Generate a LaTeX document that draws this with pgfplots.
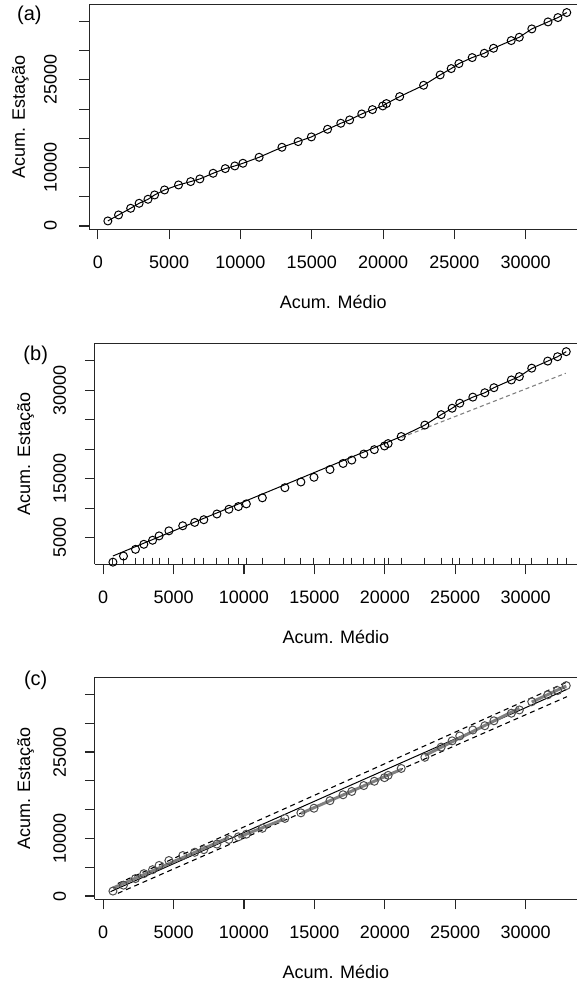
\documentclass[border=0pt]{standalone}
\usepackage{pgfplots}
\pgfplotsset{compat=1.18}
\usepackage{pgfplotstable}
\usepackage{fontspec}
\setmainfont{Liberation Sans}

\pgfplotstableread{
x y
697 856
1446 1884
2297 3025
2891 3881
3511 4566
3975 5308
4672 6164
5653 7021
6505 7591
7150 8048
8080 9018
8932 9817
9603 10274
10171 10731
11306 11758
12907 13470
14043 14441
14972 15240
16108 16553
17037 17580
17656 18151
18508 19178
19257 19920
19979 20548
20238 20947
21167 22146
22845 24087
24006 25856
24781 26941
25323 27797
26252 28824
27104 29566
27750 30422
28989 31735
29556 32306
30434 33733
31570 34932
32267 35674
32886 36530
}\pts

\pgfplotstableread{
x y
697 1900
21167 22146
22845 24087
24006 25856
24781 26941
25323 27797
26252 28824
27104 29566
27750 30422
28989 31735
29556 32306
30434 33733
31570 34932
32267 35674
32886 36530
}\blinha

\pgfplotstableread{
x y
697 1051
1446 1051
2297 1051
2891 1051
3511 1051
3975 1051
4672 1051
5653 1051
6505 1051
7150 1051
8080 1051
8932 1051
9603 1051
10171 1051
11306 1051
12907 1051
14043 1051
14972 1051
16108 1051
17037 1051
17656 1051
18508 1051
19257 1051
19979 1051
20238 1051
21167 1051
22845 1051
24006 1051
24781 1051
25323 1051
26252 1051
27104 1051
27750 1051
28989 1051
29556 1051
30434 1051
31570 1051
32267 1051
32886 1051
}\rug

\pgfplotsset{
  rstyle/.style={
    scale only axis,
    anchor=south west,
    axis lines*=left,
    axis line style={line width=1.1pt, black!85},
    every tick/.style={line width=1.1pt, black!85},
    tick align=outside,
    major tick length=10pt,
    scaled ticks=false,
    xtick={0,5000,10000,15000,20000,25000,30000},
    xticklabels={0,5000,10000,15000,20000,25000,30000},
    xticklabel style={anchor=center, inner sep=0pt, yshift=-23pt},
    tick label style={font=\fontsize{18}{21}\selectfont},
    xlabel={Acum. Médio},
    ylabel={Acum. Estação},
  },
  pts/.style={only marks, mark=o, mark size=4pt, mark options={line width=1pt}},
}

\begin{document}
\begin{tikzpicture}
\path (0,0) rectangle (577pt,981pt);

% ---------- (a)
\begin{axis}[rstyle,
  at={(89.5pt,751.7pt)},
  width=487.5pt, height=225pt,
  xmin=-591, xmax=33605,
  ymin=-571, ymax=37957,
  ytick={0,5000,10000,15000,20000,25000,30000,35000},
  yticklabels={0,,10000,,,25000,,},
  yticklabel style={xshift=-29pt, rotate=90, anchor=center, inner sep=0pt},
  every axis y label/.style={at={(axis description cs:-0.1421,0.5)}, rotate=90, anchor=center, inner sep=0pt, font=\fontsize{18}{21}\selectfont},
  every axis x label/.style={at={(axis description cs:0.5,-0.3218)}, anchor=center, inner sep=0pt, font=\fontsize{18}{21}\selectfont},
]
\draw[line width=1.1pt, black!85] (rel axis cs:0,1) -- (rel axis cs:1,1);
\addplot[black, line width=1pt] table[x=x,y=y] {\pts};
\addplot[pts, black] table[x=x,y=y] {\pts};
\end{axis}
\node[font=\fontsize{20}{23}\selectfont] at (29.4pt,966pt) {(a)};

% ---------- (b)
\begin{axis}[rstyle,
  at={(94.8pt,416.7pt)},
  width=482.2pt, height=221pt,
  xmin=-591, xmax=33649,
  ymin=492, ymax=37949,
  ytick={5000,10000,15000,20000,25000,30000,35000},
  yticklabels={5000,,15000,,,30000,},
  yticklabel style={xshift=-25pt, rotate=90, anchor=center, inner sep=0pt},
  every axis y label/.style={at={(axis description cs:-0.1435,0.5)}, rotate=90, anchor=center, inner sep=0pt, font=\fontsize{18}{21}\selectfont},
  every axis x label/.style={at={(axis description cs:0.5,-0.3303)}, anchor=center, inner sep=0pt, font=\fontsize{18}{21}\selectfont},
]
\draw[line width=1.1pt, black!85] (rel axis cs:0,1) -- (rel axis cs:1,1);
\addplot[only marks, mark=|, mark size=3.3pt, mark options={line width=1pt, black!85}] table[x=x,y=y] {\rug};
\addplot[pts, black] table[x=x,y=y] {\pts};
\addplot[black, line width=1pt] table[x=x,y=y] {\blinha};
\addplot[gray, line width=1.1pt, dash pattern=on 4pt off 3pt] coordinates {(21200,22000) (32850,32870)};
\end{axis}
\node[font=\fontsize{20}{23}\selectfont] at (35.7pt,626pt) {(b)};

% ---------- (c)
\begin{axis}[rstyle,
  at={(94.8pt,81.7pt)},
  width=482.2pt, height=221.9pt,
  xmin=-591, xmax=33649,
  ymin=-571, ymax=37957,
  ytick={0,5000,10000,15000,20000,25000,30000,35000},
  yticklabels={0,,10000,,,25000,,},
  yticklabel style={xshift=-25pt, rotate=90, anchor=center, inner sep=0pt},
  every axis y label/.style={at={(axis description cs:-0.1435,0.5)}, rotate=90, anchor=center, inner sep=0pt, font=\fontsize{18}{21}\selectfont},
  every axis x label/.style={at={(axis description cs:0.5,-0.3263)}, anchor=center, inner sep=0pt, font=\fontsize{18}{21}\selectfont},
]
\draw[line width=1.1pt, black!85] (rel axis cs:0,1) -- (rel axis cs:1,1);
\addplot[pts, black!70] table[x=x,y=y] {\pts};
\addplot[black, line width=1pt] coordinates {(523,752) (32932,35879)};
\addplot[black, line width=1.1pt, dash pattern=on 5pt off 4pt] coordinates {(1045,463) (32932,34606)};
\addplot[black, line width=1.1pt, dash pattern=on 5pt off 4pt] coordinates {(1045,2173) (32932,37152)};
\addplot[black!50, line width=3pt] coordinates {(697,1384) (8932,10161)};
\addplot[black!50, line width=3pt] coordinates {(9603,10204) (12907,13414)};
\addplot[black!50, line width=3pt] coordinates {(14043,14328) (21167,21986)};
\addplot[black!50, line width=3pt] coordinates {(22845,24412) (29556,32600)};
\addplot[black!50, line width=3pt] coordinates {(30434,33672) (32886,36468)};
\end{axis}
\node[font=\fontsize{20}{23}\selectfont] at (35.7pt,301pt) {(c)};
\end{tikzpicture}
\end{document}
